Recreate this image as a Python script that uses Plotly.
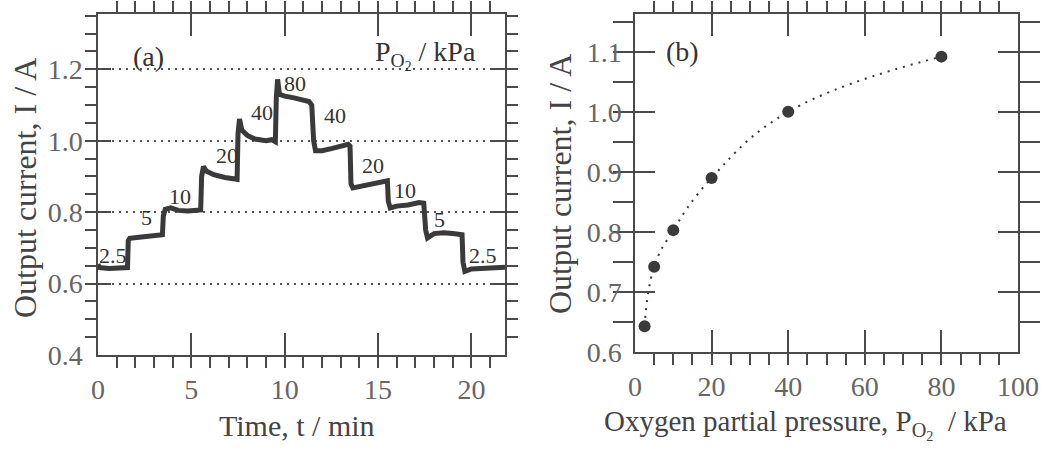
import plotly.graph_objects as go

# ---- Panel (a): output current vs time ----
time_min = [0, 0.05, 0.6, 1.2, 1.58,
            1.62, 1.7, 2.2, 2.8, 3.45,
            3.5, 3.6, 3.9, 4.3, 4.8, 5.2, 5.5,
            5.55, 5.65, 5.8, 6.2, 6.8, 7.45,
            7.5, 7.58, 7.7, 8.0, 8.4, 9.0, 9.3, 9.5,
            9.55, 9.62, 9.72, 10.0, 10.5, 11.0, 11.3, 11.45,
            11.55, 11.65, 12.0, 12.5, 13.0, 13.4, 13.5,
            13.55, 13.65, 14.0, 14.6, 15.2, 15.5,
            15.55, 15.65, 16.0, 16.6, 17.2, 17.45,
            17.55, 17.65, 18.0, 18.5, 19.0, 19.5,
            19.55, 19.65, 20.0, 20.6, 21.2, 21.8]
current_a = [0.655, 0.645, 0.642, 0.643, 0.645,
             0.72, 0.727, 0.73, 0.733, 0.737,
             0.79, 0.808, 0.812, 0.805, 0.803, 0.805, 0.806,
             0.90, 0.928, 0.915, 0.905, 0.897, 0.892,
             1.02, 1.061, 1.03, 1.015, 1.005, 1.0, 1.003, 0.997,
             1.12, 1.172, 1.13, 1.125, 1.12, 1.115, 1.11, 1.1,
             1.0, 0.972, 0.972, 0.978, 0.985, 0.99, 0.985,
             0.88, 0.868, 0.872, 0.878, 0.884, 0.888,
             0.83, 0.812, 0.817, 0.82, 0.827, 0.825,
             0.75, 0.728, 0.74, 0.742, 0.74, 0.737,
             0.66, 0.634, 0.641, 0.643, 0.645, 0.646]

step_labels = ["2.5", "5", "10", "20", "40", "80", "40", "20", "10", "5", "2.5"]
step_label_t = [0.8, 2.6, 4.4, 6.9, 8.8, 10.55, 12.7, 14.75, 16.45, 18.3, 20.6]
step_label_i = [0.68, 0.785, 0.845, 0.96, 1.08, 1.16, 1.07, 0.93, 0.86, 0.78, 0.68]

# ---- Panel (b): output current vs oxygen partial pressure ----
pressure_kpa = [2.5, 5, 10, 20, 40, 80]
current_b = [0.643, 0.742, 0.803, 0.89, 1.0, 1.092]

FONT = "Liberation Serif"
DARK = "#3a3a3a"
AXC = "#4a4a4a"
TICKC = "#666666"

fig = go.Figure()

fig.add_trace(go.Scatter(x=time_min, y=current_a, mode="lines",
                         line=dict(color=DARK, width=5),
                         xaxis="x", yaxis="y", showlegend=False))

fig.add_trace(go.Scatter(x=pressure_kpa, y=current_b, mode="lines",
                         line=dict(color=DARK, width=2, dash="2px,6px", shape="spline", smoothing=1.2),
                         xaxis="x2", yaxis="y2", showlegend=False))
fig.add_trace(go.Scatter(x=pressure_kpa, y=current_b, mode="markers",
                         marker=dict(color=DARK, size=12),
                         xaxis="x2", yaxis="y2", showlegend=False))

common = dict(showline=True, linecolor=AXC, linewidth=1.5, mirror="ticks",
              ticks="inside", tickcolor=AXC, tickwidth=1.5,
              zeroline=False, automargin=False,
              tickfont=dict(family=FONT, size=28, color=TICKC))

fig.update_layout(
    width=1050, height=452,
    margin=dict(l=0, r=0, t=0, b=0),
    paper_bgcolor="white", plot_bgcolor="white",
    xaxis=dict(domain=[98/1050, 505/1050], range=[0, 21.8], dtick=5, tick0=0,
               ticklen=22, showgrid=False, ticklabelstandoff=9,
               minor=dict(dtick=1, ticklen=11, tickcolor=AXC, tickwidth=1.5, showgrid=False),
               anchor="y", **common),
    yaxis=dict(domain=[(452-355)/452, (452-14)/452], range=[0.4, 1.355], dtick=0.2, tick0=0.4,
               tickformat=".1f", ticklen=13, ticklabelstandoff=8,
               showgrid=True, gridcolor="#555555", gridwidth=1.5, griddash="2px,5px",
               minor=dict(dtick=0.05, ticklen=11, tickcolor=AXC, tickwidth=1.5, showgrid=False),
               anchor="x", **common),
    xaxis2=dict(domain=[635/1050, 1018/1050], range=[0, 100], dtick=20, tick0=0,
                ticklen=22, showgrid=False, ticklabelstandoff=9,
                minor=dict(dtick=5, ticklen=11, tickcolor=AXC, tickwidth=1.5, showgrid=False),
                anchor="y2", **common),
    yaxis2=dict(domain=[(452-352)/452, (452-14)/452], range=[0.6, 1.163], dtick=0.1, tick0=0.6,
                tickformat=".1f", ticklen=20, showgrid=False, ticklabelstandoff=6,
                minor=dict(dtick=0.05, ticklen=20, tickcolor=AXC, tickwidth=1.5, showgrid=False),
                anchor="x2", **common),
)

ann = []
for lab, t, i in zip(step_labels, step_label_t, step_label_i):
    ann.append(dict(x=t, y=i, xref="x", yref="y", text=lab, showarrow=False,
                    xanchor="center", yanchor="middle",
                    font=dict(family=FONT, size=22, color="#333333")))

ann += [
    dict(x=2.73, y=1.236, xref="x", yref="y", text="(a)", showarrow=False,
         xanchor="center", yanchor="middle",
         font=dict(family=FONT, size=28, color="#333333")),
    dict(x=20.35, y=1.24, xref="x", yref="y", xanchor="right", yanchor="middle",
         text="P<sub>O<sub>2</sub></sub> / kPa", showarrow=False,
         font=dict(family=FONT, size=28, color="#333333")),
    dict(x=12.5, y=1.1, xref="x2", yref="y2", text="(b)", showarrow=False,
         xanchor="center", yanchor="middle",
         font=dict(family=FONT, size=28, color="#333333")),
    dict(x=25/1050, y=1-188/452, xref="paper", yref="paper", textangle=-90,
         xanchor="center", yanchor="middle",
         text="Output current, I / A", showarrow=False,
         font=dict(family=FONT, size=32, color="#444444")),
    dict(x=560/1050, y=1-184/452, xref="paper", yref="paper", textangle=-90,
         xanchor="center", yanchor="middle",
         text="Output current, I / A", showarrow=False,
         font=dict(family=FONT, size=32, color="#444444")),
    dict(x=297/1050, y=1-425/452, xref="paper", yref="paper",
         xanchor="center", yanchor="middle",
         text="Time, t / min", showarrow=False,
         font=dict(family=FONT, size=30, color="#444444")),
    dict(x=805/1050, y=1-424/452, xref="paper", yref="paper",
         xanchor="center", yanchor="middle",
         text="Oxygen partial pressure, P<sub>O<sub>2</sub></sub>  / kPa", showarrow=False,
         font=dict(family=FONT, size=29, color="#444444")),
]
fig.update_layout(annotations=ann)

fig.write_html("out.html", config={"displayModeBar": False},
               post_script="document.body.style.margin='0';document.body.style.padding='0';")
